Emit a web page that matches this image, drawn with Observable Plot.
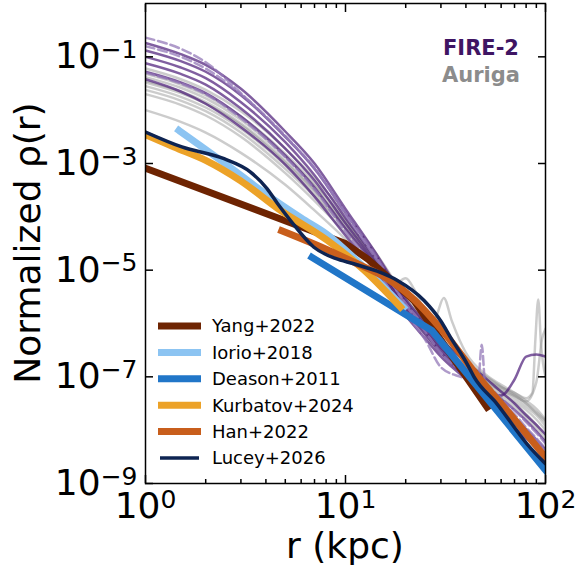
<!DOCTYPE html>
<html><head><meta charset="utf-8">
<script src="https://cdn.jsdelivr.net/npm/d3@7"></script>
<script src="https://cdn.jsdelivr.net/npm/@observablehq/plot@0.6"></script>
<style>
body{margin:0;background:#fff;}
#chart{position:relative;width:576px;height:574px;}
</style></head><body><div id="chart"></div>
<script>
// ---- data (log10 of normalized density) ----
const R_SIM = [1, 1.5, 2, 3, 5, 7, 10, 14, 20, 25, 30, 40, 50, 60, 70, 80, 90, 100];

const fireA = [-0.74,-0.95,-1.15,-1.6,-2.4,-3.0,-3.85,-4.65,-5.55,-5.98,-6.3,-6.72,-7.02,-7.28,-7.5,-7.72,-7.9,-8.08];
const fireB = [-0.88,-1.08,-1.28,-1.72,-2.5,-3.1,-3.92,-4.7,-5.6,-6.05,-6.4,-6.85,-7.15,-7.42,-7.62,-7.82,-8.02,-8.22];
const fireC = [-1.0,-1.2,-1.4,-1.85,-2.6,-3.22,-4.02,-4.78,-5.68,-6.1,-6.45,-6.9,-7.25,-7.52,-7.76,-7.98,-8.18,-8.36];
const fireD = [-1.12,-1.32,-1.52,-1.97,-2.72,-3.32,-4.12,-4.85,-5.72,-6.15,-6.5,-6.95,-7.3,-7.6,-7.86,-8.1,-8.3,-8.5];
const fireE = [-1.28,-1.48,-1.68,-2.12,-2.85,-3.45,-4.22,-4.9,-5.78,-6.2,-6.55,-7.0,-7.3,-7.35,-7.05,-6.62,-6.58,-6.62];
const fireF = [-1.42,-1.65,-1.88,-2.32,-3.02,-3.62,-4.35,-5.0,-5.85,-6.28,-6.62,-7.05,-7.42,-7.7,-7.95,-8.15,-8.32,-8.46];

const fireDashA = [-0.64,-0.85,-1.1,-1.68,-2.5,-3.08,-3.95,-4.75,-5.62,-6.05,-6.38,-6.82,-7.12,-7.4,-7.62,-7.85,-8.05,-8.25];
const R_DASH_B = [1,1.5,2,3,5,7,10,14,20,25,30,40,46,48,50,60,70,80,90,100];
const fireDashB = [-0.8,-1.0,-1.22,-1.7,-2.48,-3.1,-3.92,-4.7,-5.65,-6.15,-6.55,-6.95,-7.1,-6.4,-7.15,-7.45,-7.7,-7.95,-8.15,-8.35];
const fireDashC = [-1.3,-1.5,-1.7,-2.15,-2.88,-3.48,-4.28,-4.95,-5.8,-6.3,-6.82,-7.05,-7.32,-7.55,-7.78,-8.0,-8.2,-8.4];

const aurA = [-1.22,-1.42,-1.62,-2.02,-2.72,-3.28,-3.95,-4.65,-5.5,-5.95,-6.3,-6.72,-6.98,-7.18,-7.34,-7.5,-7.66,-7.82];
const aurB = [-1.38,-1.58,-1.78,-2.18,-2.88,-3.42,-4.08,-4.75,-5.55,-6.0,-6.38,-6.8,-7.05,-7.25,-7.4,-7.56,-7.72,-7.92];
const aurC = [-1.55,-1.75,-1.95,-2.35,-3.03,-3.58,-4.2,-4.85,-5.65,-6.08,-6.45,-6.85,-7.1,-7.3,-7.46,-7.62,-7.8,-8.0];
const aurD = [-1.7,-1.9,-2.1,-2.5,-3.18,-3.7,-4.3,-4.9,-5.7,-6.15,-6.5,-6.9,-7.15,-7.35,-7.5,-7.7,-7.9,-8.1];
const aurE = [-2.0,-2.22,-2.42,-2.8,-3.4,-3.88,-4.42,-4.98,-5.75,-6.2,-6.55,-6.95,-7.2,-7.4,-7.56,-7.76,-7.96,-8.18];
const R_AUR_F = [1,1.5,2,3,5,7,10,14,17,20,22,25,30,40,50,60,70,80,90,100];
const aurF = [-1.32,-1.52,-1.72,-2.12,-2.82,-3.38,-4.05,-4.8,-5.3,-5.15,-5.35,-5.8,-6.25,-6.7,-7.0,-7.2,-7.35,-7.5,-7.68,-7.85];
const R_AUR_G = [1,1.5,2,3,5,7,10,14,20,25,28,31,34,40,50,60,70,80,90,100];
const aurG = [-1.48,-1.68,-1.88,-2.28,-2.98,-3.52,-4.15,-4.8,-5.6,-5.95,-5.9,-5.52,-5.95,-6.55,-6.95,-7.15,-7.3,-7.45,-7.6,-7.8];
const R_AUR_H = [1,1.5,2,3,5,7,10,14,20,25,30,40,50,60,70,80,86,89,92,95,100];
const aurH = [-1.45,-1.65,-1.85,-2.25,-2.95,-3.5,-4.12,-4.78,-5.58,-6.02,-6.4,-6.8,-7.05,-7.2,-7.3,-7.4,-7.3,-6.3,-5.55,-6.4,-7.0];
const R_AUR_I = [1,1.5,2,3,5,7,10,14,20,25,30,40,50,60,70,80,90,96,100];
const aurI = [-1.62,-1.82,-2.02,-2.42,-3.1,-3.62,-4.22,-4.86,-5.62,-6.06,-6.42,-6.86,-7.1,-7.26,-7.36,-7.46,-7.1,-6.3,-6.1];

// observational profiles
const yangR = [1, 10, 13, 16, 22, 35, 51];
const yangLog = [-3.09, -4.5, -4.8, -5.1, -5.57, -6.68, -7.57];
const iorioR = [1.47, 2.5, 4.2, 6, 8.1, 12, 19.5];
const iorioLog = [-2.38, -3.0, -3.63, -4.02, -4.33, -4.9, -5.7];
const deasonR = [6.8, 27, 100];
const deasonLog = [-4.76, -6.13, -8.75];
const kurbatovR = [1, 1.39, 2, 2.98, 4.73, 8.1, 12.4, 18.8];
const kurbatovLog = [-2.46, -2.69, -2.94, -3.32, -3.88, -4.44, -5.0, -5.69];
const hanR = [4.8, 7.5, 11, 16, 22, 30, 45, 70, 100];
const hanLog = [-4.26, -4.56, -4.85, -5.15, -5.55, -6.1, -6.95, -7.8, -8.51];
const luceyR = [1, 1.52, 2.47, 3.35, 4.06, 4.57, 5.31, 6.95, 8.91, 11.0, 14.4, 18.1, 24.7, 29.9, 33.5, 40.6, 43.9, 57.3, 80.9, 100];
const luceyLog = [-2.41, -2.69, -2.91, -3.16, -3.475, -3.75, -4.07, -4.57, -4.78, -4.88, -5.02, -5.19, -5.57, -5.95, -6.26, -6.76, -7.0, -7.51, -8.26, -8.63];

const legendNames = ["Yang+2022", "Iorio+2018", "Deason+2011", "Kurbatov+2024", "Han+2022", "Lucey+2026"];
const legendColors = ["#6e2402", "#8cc4f2", "#2176c8", "#eca228", "#c85e1c", "#0e2452"];
const legendWidths = [7, 7, 7, 7, 7, 3.5];

const X_MAJOR = [1, 10, 100];
const X_MINOR = [2,3,4,5,6,7,8,9,20,30,40,50,60,70,80,90];
const Y_MAJOR = [1e-1, 1e-3, 1e-5, 1e-7, 1e-9];

// ---- build tables ----
const rows = (id, rs, logs) => rs.map((r, i) => ({id, r, rho: Math.pow(10, logs[i])}));
const fireSolid = [
  ...rows("a", R_SIM, fireA), ...rows("b", R_SIM, fireB), ...rows("c", R_SIM, fireC),
  ...rows("d", R_SIM, fireD), ...rows("e", R_SIM, fireE), ...rows("f", R_SIM, fireF)];
const fireDashed = [
  ...rows("a", R_SIM, fireDashA), ...rows("b", R_DASH_B, fireDashB), ...rows("c", R_SIM, fireDashC)];
const auriga = [
  ...rows("a", R_SIM, aurA), ...rows("b", R_SIM, aurB), ...rows("c", R_SIM, aurC),
  ...rows("d", R_SIM, aurD), ...rows("e", R_SIM, aurE), ...rows("f", R_AUR_F, aurF),
  ...rows("g", R_AUR_G, aurG), ...rows("h", R_AUR_H, aurH), ...rows("i", R_AUR_I, aurI)];
const obs = [
  {rows: rows("yang", yangR, yangLog), curve: "linear"},
  {rows: rows("iorio", iorioR, iorioLog), curve: "monotone-x"},
  {rows: rows("deason", deasonR, deasonLog), curve: "linear"},
  {rows: rows("kurbatov", kurbatovR, kurbatovLog), curve: "monotone-x"},
  {rows: rows("han", hanR, hanLog), curve: "monotone-x"},
  {rows: rows("lucey", luceyR, luceyLog), curve: "monotone-x"}
];

const exp = d => Math.round(Math.log10(d));
const fmt = d => "10^" + exp(d);

const plot = Plot.plot({
  width: 576, height: 574,
  marginLeft: 145, marginRight: 31, marginTop: 3, marginBottom: 91,
  x: {type: "log", domain: [1, 100]},
  y: {type: "log", domain: [1e-9, 1]},
  style: {fontFamily: "DejaVu Sans", background: "white", color: "black"},
  marks: [
    Plot.line(auriga, {x: "r", y: "rho", z: "id", stroke: "#8f8f8f", strokeOpacity: 0.45, strokeWidth: 2.5, curve: "monotone-x", clip: true}),
    Plot.line(fireSolid, {x: "r", y: "rho", z: "id", stroke: "#4a1a78", strokeOpacity: 0.7, strokeWidth: 2.5, curve: "monotone-x", clip: true}),
    Plot.line(fireDashed, {x: "r", y: "rho", z: "id", stroke: "#9479b8", strokeOpacity: 0.75, strokeWidth: 2.5, strokeDasharray: "9,4", curve: "monotone-x", clip: true}),
    ...obs.map((o, i) => Plot.line(o.rows, {x: "r", y: "rho", stroke: legendColors[i], strokeWidth: legendWidths[i], curve: o.curve, strokeLinecap: i === 5 ? "round" : "square", strokeLinejoin: "round", clip: true})),
    Plot.frame({stroke: "black", strokeWidth: 1.5}),
    Plot.axisX({anchor: "bottom", ticks: X_MAJOR, tickSize: -8, strokeWidth: 1.5, tickFormat: () => "", label: null}),
    Plot.axisX({anchor: "bottom", ticks: X_MINOR, tickSize: -4, strokeWidth: 1.5, tickFormat: () => "", label: null}),
    Plot.axisX({anchor: "top", ticks: X_MAJOR, tickSize: -8, strokeWidth: 1.5, tickFormat: () => "", label: null}),
    Plot.axisX({anchor: "top", ticks: X_MINOR, tickSize: -4, strokeWidth: 1.5, tickFormat: () => "", label: null}),
    Plot.axisY({anchor: "left", ticks: Y_MAJOR, tickSize: -8, strokeWidth: 1.5, tickFormat: () => "", label: null}),
    Plot.axisY({anchor: "right", ticks: Y_MAJOR, tickSize: -8, strokeWidth: 1.5, tickFormat: () => "", label: null}),
    Plot.axisX({anchor: "bottom", ticks: X_MAJOR, tickSize: 0, tickPadding: 9, tickFormat: fmt, fontSize: 36, label: null}),
    Plot.axisY({anchor: "left", ticks: Y_MAJOR, tickSize: 0, tickPadding: 8, tickFormat: fmt, fontSize: 36, label: null})
  ]
});

// superscript tick labels
plot.querySelectorAll("text").forEach(t => {
  const s = t.textContent;
  const m = /^10\^(-?\d+)$/.exec(s);
  if (!m) return;
  t.textContent = "";
  const ns = "http://www.w3.org/2000/svg";
  const a = document.createElementNS(ns, "tspan"); a.textContent = "10"; t.appendChild(a);
  const b = document.createElementNS(ns, "tspan");
  b.textContent = m[1].replace("-", "\u2212");
  b.setAttribute("dy", "-0.42em"); b.setAttribute("font-size", "25");
  t.appendChild(b);
});

const svg = d3.select(plot);
svg.append("text").attr("transform", "translate(40,243) rotate(-90)")
  .attr("text-anchor", "middle").attr("font-size", 36).attr("fill", "black").text("Normalized \u03c1(r)");
svg.append("text").attr("x", 345).attr("y", 558)
  .attr("text-anchor", "middle").attr("font-size", 36).attr("fill", "black").text("r (kpc)");
svg.append("text").attr("x", 519).attr("y", 55).attr("text-anchor", "end")
  .attr("font-size", 21).attr("font-weight", "bold").attr("fill", "#3f1563").text("FIRE-2");
svg.append("text").attr("x", 520).attr("y", 82).attr("text-anchor", "end")
  .attr("font-size", 21).attr("font-weight", "bold").attr("fill", "#8c8c8c").text("Auriga");

const lg = svg.append("g").attr("font-size", 18).attr("text-anchor", "start");
legendNames.forEach((name, i) => {
  const y = 326 + i * 26.4;
  lg.append("line").attr("x1", i === 5 ? 160 : 158).attr("x2", i === 5 ? 199 : 201).attr("y1", y).attr("y2", y)
    .attr("stroke", legendColors[i]).attr("stroke-width", legendWidths[i]);
  lg.append("text").attr("x", 212).attr("y", y).attr("dy", "0.35em").attr("text-anchor", "start").attr("fill", "black").text(name);
});

document.getElementById("chart").appendChild(plot);
</script></body></html>
